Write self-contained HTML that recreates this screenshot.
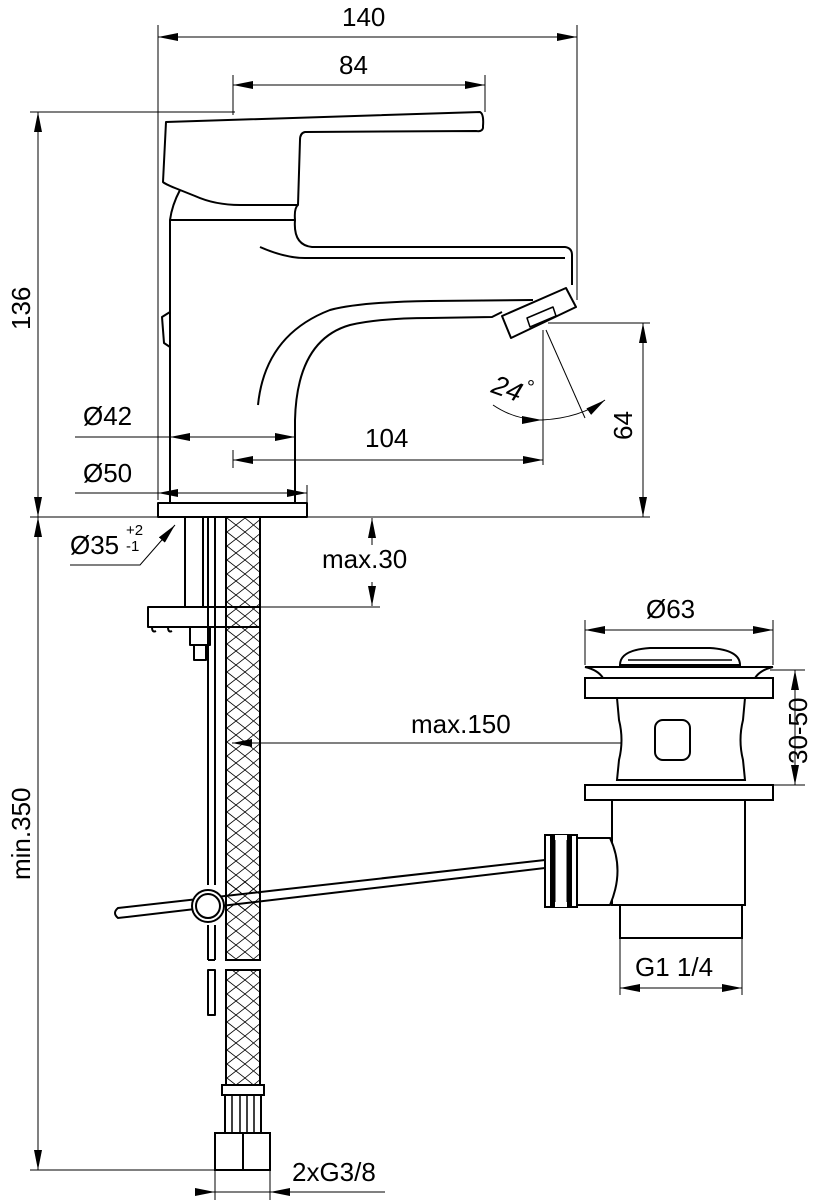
<!DOCTYPE html>
<html><head><meta charset="utf-8"><style>
html,body{margin:0;padding:0;background:#fff}
svg{display:block}
text{font-family:"Liberation Sans",Arial,sans-serif;font-size:26px;fill:#000}
</style></head><body>
<svg width="825" height="1200" viewBox="0 0 825 1200" xmlns="http://www.w3.org/2000/svg">
<defs>
<marker id="a" viewBox="0 0 20 8" refX="20" refY="4" markerWidth="20" markerHeight="8" markerUnits="userSpaceOnUse" orient="auto-start-reverse"><path d="M0,0 L20,4 L0,8z" fill="#000"/></marker>
<pattern id="hz" width="35" height="14" patternUnits="userSpaceOnUse"><path d="M0,0 L17,14 M17,0 L35,14 M17,0 L0,14 M35,0 L17,14" stroke="#000" stroke-width="0.8" fill="none"/></pattern>
</defs>
<g stroke="#000" stroke-width="1" fill="none">
<line x1="158" y1="25" x2="158" y2="500"/>
<line x1="577" y1="25" x2="577" y2="300"/>
<line x1="233" y1="75" x2="233" y2="115"/>
<line x1="485" y1="75" x2="485" y2="112"/>
<line x1="30" y1="112" x2="235" y2="112"/>
<line x1="30" y1="517" x2="650" y2="517"/>
<line x1="30" y1="1170" x2="215" y2="1170"/>
<line x1="548" y1="323" x2="650" y2="323"/>
<line x1="543" y1="330" x2="543" y2="465"/>
<line x1="75" y1="437" x2="170" y2="437"/>
<line x1="75" y1="493" x2="158" y2="493"/>
<line x1="233" y1="450" x2="233" y2="468"/>
<line x1="307" y1="485" x2="307" y2="503"/>
<line x1="260" y1="607" x2="380" y2="607"/>
<line x1="585" y1="620" x2="585" y2="665"/>
<line x1="773" y1="620" x2="773" y2="665"/>
<line x1="770" y1="670" x2="805" y2="670"/>
<line x1="770" y1="785" x2="805" y2="785"/>
<line x1="620" y1="935" x2="620" y2="995"/>
<line x1="742" y1="935" x2="742" y2="995"/>
<line x1="215" y1="1160" x2="215" y2="1200"/>
<line x1="270" y1="1160" x2="270" y2="1200"/>
<line x1="158" y1="37" x2="577" y2="37" marker-start="url(#a)" marker-end="url(#a)"/>
<line x1="233" y1="85" x2="485" y2="85" marker-start="url(#a)" marker-end="url(#a)"/>
<line x1="38" y1="112" x2="38" y2="517" marker-start="url(#a)" marker-end="url(#a)"/>
<line x1="38" y1="517" x2="38" y2="1170" marker-start="url(#a)" marker-end="url(#a)"/>
<line x1="643" y1="323" x2="643" y2="517" marker-start="url(#a)" marker-end="url(#a)"/>
<line x1="170" y1="437" x2="295" y2="437" marker-start="url(#a)" marker-end="url(#a)"/>
<line x1="233" y1="460" x2="543" y2="460" marker-start="url(#a)" marker-end="url(#a)"/>
<line x1="158" y1="493" x2="307" y2="493" marker-start="url(#a)" marker-end="url(#a)"/>
<polyline points="70,565 140,565 175,525" marker-end="url(#a)"/>
<line x1="372" y1="545" x2="372" y2="518" marker-end="url(#a)"/>
<line x1="372" y1="582" x2="372" y2="606" marker-end="url(#a)"/>
<line x1="585" y1="630" x2="773" y2="630" marker-start="url(#a)" marker-end="url(#a)"/>
<line x1="795" y1="670" x2="795" y2="785" marker-start="url(#a)" marker-end="url(#a)"/>
<line x1="232" y1="743" x2="673" y2="743" marker-start="url(#a)" marker-end="url(#a)"/>
<line x1="620" y1="988" x2="742" y2="988" marker-start="url(#a)" marker-end="url(#a)"/>
<line x1="195" y1="1192" x2="215" y2="1192" marker-end="url(#a)"/>
<line x1="290" y1="1192" x2="270" y2="1192" marker-end="url(#a)"/>
<line x1="215" y1="1192" x2="385" y2="1192"/>
<line x1="546" y1="330" x2="585" y2="418"/>
<path d="M493,405 Q515,420 542,420" marker-end="url(#a)"/>
<path d="M542,420 Q580,418 605,400" marker-end="url(#a)"/>
</g>
<g stroke="#000" stroke-width="2" fill="none" stroke-linejoin="round">
<path d="M166,122 L480,112 Q484,114 483,126 L483,128 Q482,132 476,131 L305,132 Q300,133 300,140 L298,205 L240,205 Q215,205 195,196 L175,188 Q165,184 163,182 Z"/>
<path d="M180,190 Q172,205 170,220 L295,220 Q294,208 298,205"/>
<path d="M170,220 L170,503 M295,420 L295,503"/>
<path d="M295,220 Q293,245 312,247 L565,247 Q572,248 572,255 L572,285"/>
<path d="M260,247 Q285,258 305,258 L565,258"/>
<path d="M258,405 Q265,335 330,310 Q360,302 430,301 L533,300"/>
<path d="M295,420 Q297,340 350,325 Q380,318 430,318 L492,317 L502,312"/>
<path d="M502,316 L566,288 L576,307 L511,338 Z"/>
<path d="M527,318 L553,307 L556,316 L530,327 Z" stroke-width="1.5"/>
<path d="M170,312 L162,317 L164,343 L170,347"/>
<rect x="158" y="503" width="149" height="14"/>
<line x1="185" y1="517" x2="185" y2="607"/>
<line x1="203" y1="517" x2="203" y2="607"/>
<line x1="208" y1="517" x2="208" y2="885"/>
<line x1="215" y1="517" x2="215" y2="885"/>
<line x1="208" y1="925" x2="208" y2="960"/><line x1="215" y1="925" x2="215" y2="960"/><line x1="208" y1="960" x2="215" y2="960"/>
<rect x="208" y="970" width="7" height="45"/>
<rect x="148" y="607" width="112" height="20"/>
<path d="M152,627 Q152,633 156,631 M168,627 Q168,633 172,631"/>
<rect x="190" y="627" width="20" height="18"/>
<rect x="194" y="645" width="12" height="15"/>
</g>
<rect x="226" y="517" width="34" height="443" fill="url(#hz)" stroke="#000" stroke-width="2"/>
<rect x="226" y="970" width="34" height="115" fill="url(#hz)" stroke="#000" stroke-width="2"/>
<g stroke="#000" stroke-width="2" fill="#fff">
<rect x="222" y="1085" width="42" height="10"/>
<rect x="225" y="1095" width="36" height="38"/>
<path d="M232,1095 V1133 M240,1095 V1133 M247,1095 V1133 M254,1095 V1133" fill="none" stroke-width="1.5"/>
<rect x="215" y="1133" width="55" height="37"/>
<line x1="243" y1="1133" x2="243" y2="1170"/>
<path d="M118,908 L545,860 L545,868 L118,918 Q112,913 118,908 Z" fill="#fff"/>
<circle cx="208" cy="906" r="16"/>
<circle cx="208" cy="906" r="12" fill="none"/>
<rect x="226" y="880" width="34" height="30" fill="url(#hz)" stroke="none"/>
<line x1="226" y1="878" x2="226" y2="912"/><line x1="260" y1="878" x2="260" y2="912"/>
<path d="M620,665 Q620,650 650,648 L710,648 Q740,650 740,665 Z"/>
<path d="M628,660 L732,660" fill="none" stroke-width="1.5"/>
<path d="M585,667 L773,667 Q760,670 755,678 L603,678 Q598,670 585,667 Z"/>
<rect x="585" y="678" width="188" height="20"/>
<path d="M617,698 L745,698 L743,720 Q738,740 743,760 L745,780 L617,780 L619,760 Q624,740 619,720 Z"/>
<rect x="655" y="720" width="35" height="40" rx="8"/>
<path d="M585,785 L773,785 L773,800 L585,800 Z"/>
<rect x="612" y="800" width="133" height="105"/>
<rect x="620" y="905" width="122" height="33"/>
<path d="M577,838 L610,838 Q625,870 610,905 L577,905 Z"/>
<rect x="545" y="835" width="32" height="72"/>
<rect x="551" y="835" width="20" height="72" fill="#000"/>
<rect x="555" y="835" width="12" height="72" fill="#fff" stroke="none"/>
<path d="M555,840 V902 M567,840 V902" stroke-width="1"/>
</g>
<text x="342" y="26">140</text>
<text x="339" y="74">84</text>
<text x="83" y="425">Ø42</text>
<text x="365" y="447">104</text>
<text x="83" y="482">Ø50</text>
<text x="70" y="554">Ø35</text>
<text x="126" y="535" style="font-size:15px">+2</text>
<text x="126" y="551" style="font-size:15px">-1</text>
<text x="322" y="568">max.30</text>
<text x="646" y="618">Ø63</text>
<text x="411" y="733">max.150</text>
<text x="635" y="976">G1 1/4</text>
<text x="292" y="1181">2xG3/8</text>
<text transform="translate(490,392) rotate(20)" style="font-style:italic;font-size:27px">24</text>
<text x="527" y="394" style="font-size:20px">°</text>
<text transform="translate(30,330) rotate(-90)">136</text>
<text transform="translate(30,880) rotate(-90)">min.350</text>
<text transform="translate(632,440) rotate(-90)">64</text>
<text transform="translate(807,764) rotate(-90)">30-50</text>
</svg>
</body></html>
